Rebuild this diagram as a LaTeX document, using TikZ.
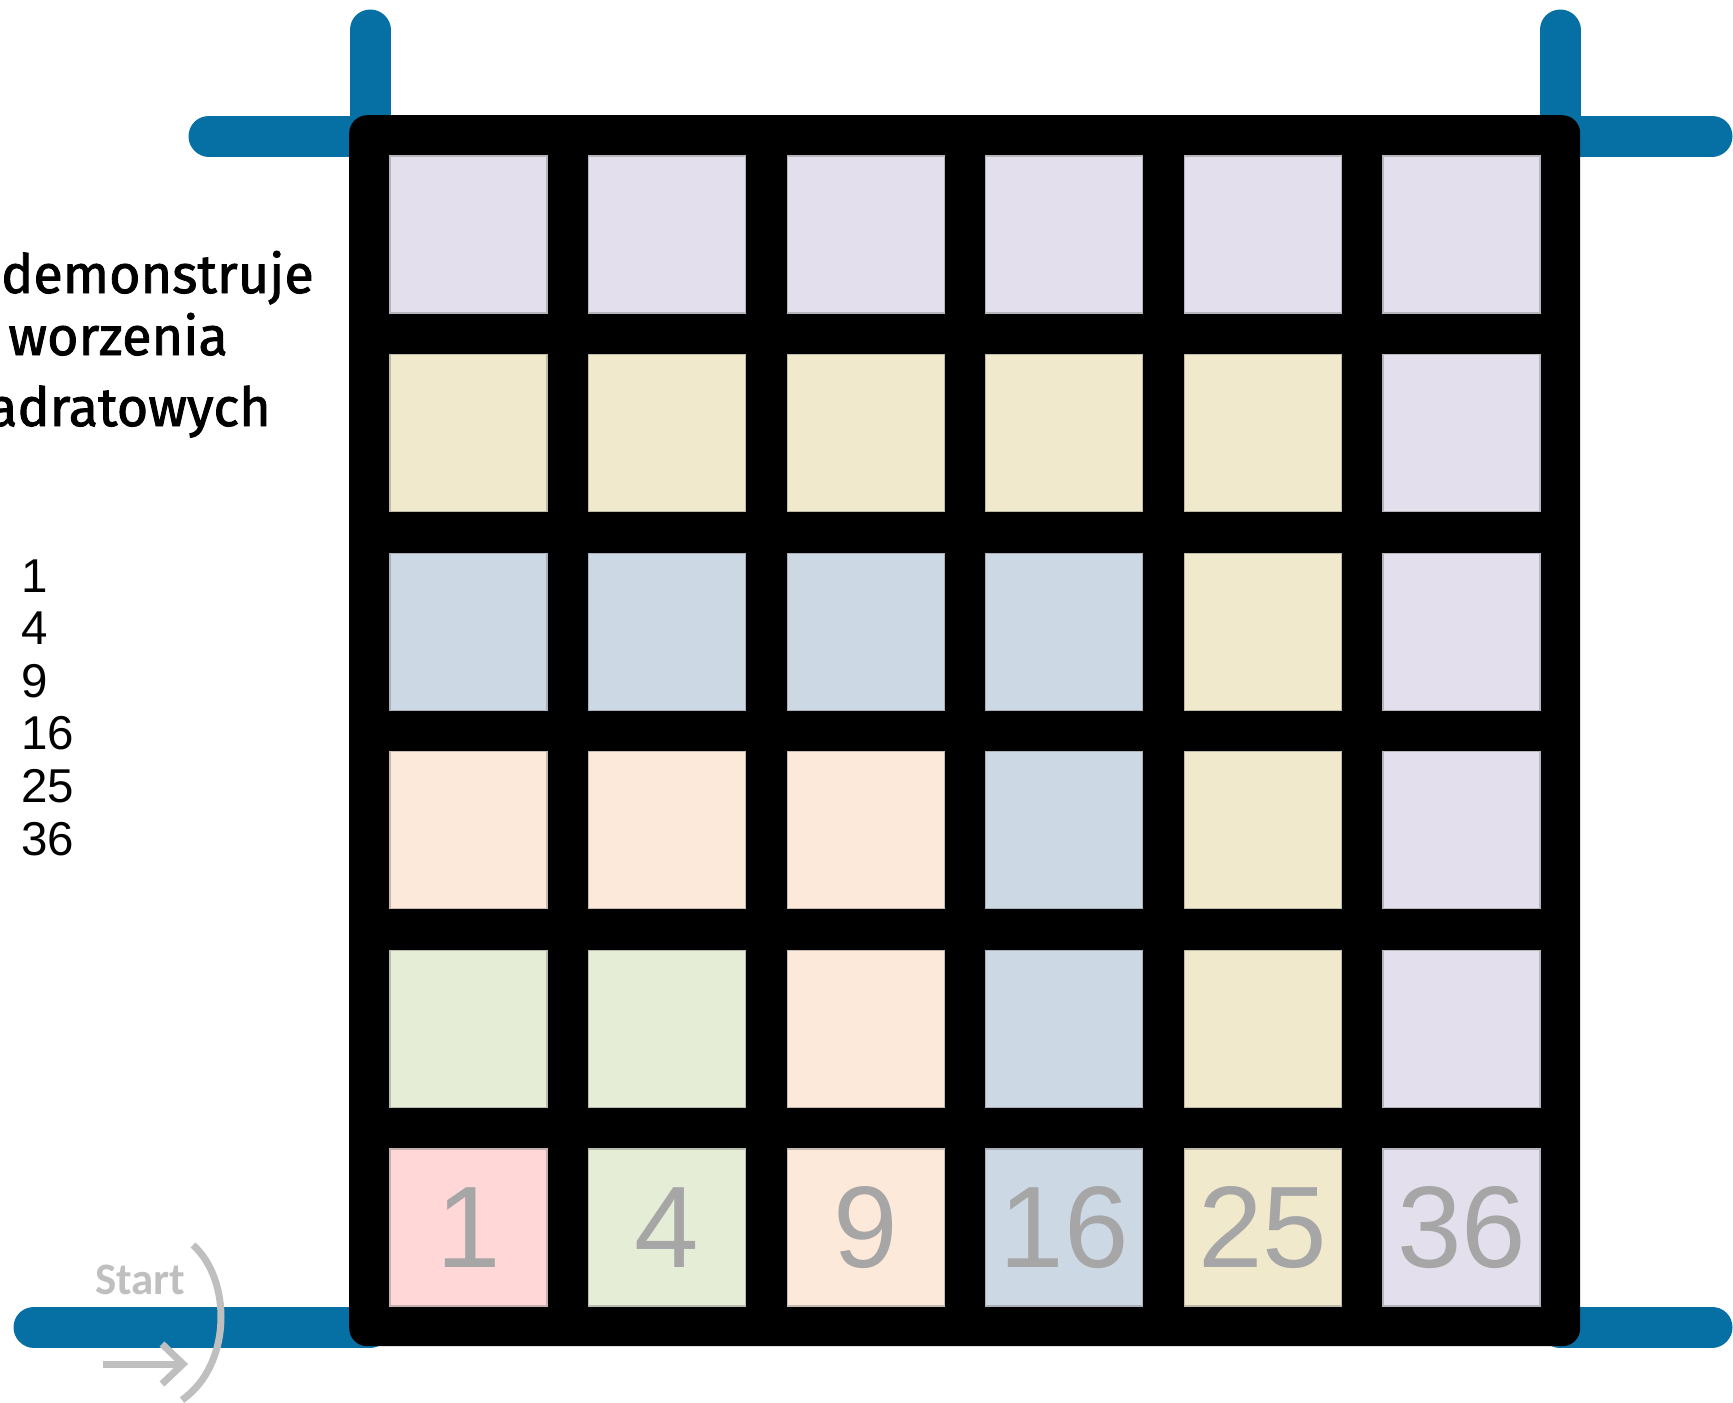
\documentclass[tikz,border=0pt]{standalone}
\usepackage{fontspec}
\setmainfont{Liberation Sans}
\newfontfamily\headfont[FakeBold=1.6]{Fira Sans}
\newfontfamily\startfont{Carlito}
\definecolor{bl}{HTML}{0670A5}
\definecolor{lav}{HTML}{E4DFEC}
\definecolor{yel}{HTML}{F1E9CB}
\definecolor{blu}{HTML}{CDD8E5}
\definecolor{pea}{HTML}{FDE9D9}
\definecolor{gre}{HTML}{E5EDD6}
\definecolor{pnk}{HTML}{FFD7D7}
\definecolor{numgray}{HTML}{A6A6A6}
\definecolor{stgray}{HTML}{BFBFBF}
\begin{document}
\begin{tikzpicture}[x=1pt,y=-1pt,
  blueline/.style={line width=41pt, line cap=round, draw=bl},
  cell/.style={fill=#1, draw=#1!55!gray, line width=1.2pt, minimum width=157pt,
    minimum height=157pt, inner sep=0pt, outer sep=0pt, anchor=north west},
  numtext/.style={text=numgray, font=\fontsize{116}{116}\selectfont},
  headtext/.style={anchor=base east, inner sep=0pt, font=\headfont\fontsize{54}{54}\selectfont},
  legtext/.style={anchor=base west, inner sep=0pt, font=\fontsize{47.5}{47.5}\selectfont},
  startline/.style={draw=stgray, line width=7pt}]
\useasboundingbox (0,0) rectangle (1733,1403);
% blue corner bars
\draw[blueline] (370,30) -- (370,136);
\draw[blueline] (209,136) -- (370,136);
\draw[blueline] (1560,30) -- (1560,136);
\draw[blueline] (1560,136) -- (1712,136);
\draw[blueline] (1560,1327) -- (1712,1327);
\draw[blueline] (34,1327) -- (370,1327);
% board
\node[fill=black, rounded corners=18pt, minimum width=1231pt, minimum height=1231pt,
  inner sep=0pt, anchor=north west] (board) at (349,115) {};
% cells
\foreach \row [count=\i from 0] in {{lav,lav,lav,lav,lav,lav},{yel,yel,yel,yel,yel,lav},{blu,blu,blu,blu,yel,lav},{pea,pea,pea,blu,yel,lav},{gre,gre,pea,blu,yel,lav}}{
  \foreach \c [count=\j from 0] in \row {
    \node[cell=\c] (c\i\j) at ({390+198.6*\j},{156+198.6*\i}) {};
  }
}
\foreach \c/\n [count=\j from 0] in {pnk/1,gre/4,pea/9,blu/16,yel/25,lav/36} {
  \node[cell=\c, numtext] (c5\j) at ({390+198.6*\j},1149) {\n};
}
% heading text (cut at the left edge)
\node[headtext] (h1) at (314,293) {demonstruje};
\node[headtext] (h2) at (228,355) {worzenia};
\node[headtext] (h3) at (271,426) {adratowych};
% legend numbers
\foreach \t [count=\k from 0] in {1,4,9,16,25,36} {
  \node[legtext] (l\k) at (21,{592+52.6*\k}) {\t};
}
% start marker
\node[anchor=base west, inner sep=0pt, text=stgray,
  font=\startfont\bfseries\fontsize{45}{45}\selectfont] (start) at (95,1294) {Start};
\draw[startline] (193,1245) .. controls (232,1280) and (232,1365) .. (182,1400);
\coordinate (arrA) at (103,1364);
\coordinate (arrB) at (183,1364);
\draw[startline] (arrA) -- (arrB);
\draw[startline, line join=miter] (162,1344) -- (arrB) -- (162,1384);
\end{tikzpicture}
\end{document}
